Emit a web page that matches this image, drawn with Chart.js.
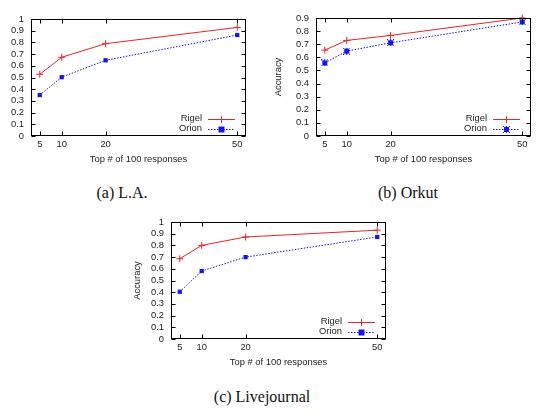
<!DOCTYPE html>
<html>
<head>
<meta charset="utf-8">
<script src="https://cdn.jsdelivr.net/npm/chart.js@4/dist/chart.umd.min.js"></script>
<style>
  html, body { margin: 0; padding: 0; background: #ffffff; }
  body { width: 553px; height: 414px; position: relative; overflow: hidden; }
  canvas { position: absolute; }
  .cap { position: absolute; font-family: "Liberation Serif", serif; font-size: 16px; color: #111; transform: translate(-50%, -50%); white-space: nowrap; }
</style>
</head>
<body>
<canvas id="cA"></canvas>
<canvas id="cB"></canvas>
<canvas id="cC"></canvas>
<div class="cap" style="left:122px; top:193px;">(a) L.A.</div>
<div class="cap" style="left:408px; top:193px;">(b) Orkut</div>
<div class="cap" style="left:262px; top:397px;">(c) Livejournal</div>
<script>
// ---- data ----
const categories = [5, 10, 20, 50];
const xTickLabels = ['5', '10', '20', '50'];
const yTickValues = [0, 0.1, 0.2, 0.3, 0.4, 0.5, 0.6, 0.7, 0.8, 0.9, 1];
const yTickLabels = ['0', '0.1', '0.2', '0.3', '0.4', '0.5', '0.6', '0.7', '0.8', '0.9', '1'];
const seriesNames = ['Rigel', 'Orion'];
const laRigel = [0.527, 0.673, 0.789, 0.928];
const laOrion = [0.350, 0.503, 0.647, 0.863];
const orkutRigel = [0.655, 0.729, 0.767, 0.900];
const orkutOrion = [0.557, 0.647, 0.711, 0.870];
const ljRigel = [0.686, 0.800, 0.872, 0.930];
const ljOrion = [0.404, 0.581, 0.700, 0.872];
const xTitle = 'Top # of 100 responses';
const yTitle = 'Accuracy';

// ---- style ----
const FONT = 'Liberation Sans, Arial, sans-serif';
const FS = 9.4;
const LH = FS * 1.2;
const RED = '#e3262b';
const BLUE = '#1414f0';

function starBox() {
  const c = document.createElement('canvas');
  c.width = 7; c.height = 7;
  const g = c.getContext('2d');
  g.fillStyle = BLUE;
  g.fillRect(1, 1, 5, 5);
  g.strokeStyle = BLUE; g.lineWidth = 1;
  g.beginPath();
  g.moveTo(0, 0); g.lineTo(7, 7);
  g.moveTo(7, 0); g.lineTo(0, 7);
  g.moveTo(3.5, 0); g.lineTo(3.5, 7);
  g.stroke();
  return c;
}

const framePlugin = {
  id: 'frame',
  afterDatasetsDraw(chart) {
    const ctx = chart.ctx, a = chart.chartArea;
    const xs = chart.scales.x, ys = chart.scales.y;
    ctx.save();
    ctx.strokeStyle = '#000'; ctx.lineWidth = 1;
    const L = Math.round(a.left) + 0.5, R = Math.round(a.right) - 0.5;
    const T = Math.round(a.top) + 0.5, B = Math.round(a.bottom) - 0.5;
    ctx.beginPath();
    ys.ticks.forEach(t => {
      const y = Math.round(ys.getPixelForValue(t.value)) + 0.5;
      ctx.moveTo(L, y); ctx.lineTo(L + 4, y);
      ctx.moveTo(R, y); ctx.lineTo(R - 4, y);
    });
    xs.ticks.forEach(t => {
      const x = Math.round(xs.getPixelForValue(t.value)) + 0.5;
      ctx.moveTo(x, B); ctx.lineTo(x, B - 4);
      ctx.moveTo(x, T); ctx.lineTo(x, T + 4);
    });
    ctx.stroke();
    ctx.strokeRect(L, T, R - L, B - T);
    // legend
    ctx.font = FS + 'px ' + FONT;
    ctx.textAlign = 'right'; ctx.textBaseline = 'middle';
    ctx.fillStyle = '#222';
    chart.data.datasets.forEach((ds, i) => {
      const y = a.bottom - 17.5 + i * 10;
      ctx.fillText(ds.label, a.right - 44, y);
      ctx.save();
      ctx.strokeStyle = ds.borderColor; ctx.lineWidth = 1;
      ctx.setLineDash(ds.borderDash || []);
      ctx.beginPath();
      ctx.moveTo(a.right - 38, Math.round(y) + 0.5); ctx.lineTo(a.right - 11, Math.round(y) + 0.5);
      ctx.stroke();
      ctx.setLineDash([]);
      const mx = a.right - 24.5, my = Math.round(y) + 0.5;
      if (ds.pointStyle === 'cross') {
        ctx.beginPath();
        ctx.moveTo(mx - 3.5, my); ctx.lineTo(mx + 3.5, my);
        ctx.moveTo(mx, my - 3.5); ctx.lineTo(mx, my + 3.5);
        ctx.stroke();
      } else if (ds.pointStyle === 'rect') {
        ctx.fillStyle = ds.pointBackgroundColor;
        ctx.fillRect(mx - 3, my - 3, 6, 6);
      } else {
        ctx.drawImage(ds.pointStyle, mx - 3.5, my - 3.5);
      }
      ctx.restore();
    });
    ctx.restore();
  }
};

function makeChart(id, g, yMax, rigel, orion, orionStyle) {
  const cv = document.getElementById(id);
  cv.style.left = g.left + 'px'; cv.style.top = g.top + 'px';
  cv.width = g.w; cv.height = g.h;
  cv.style.width = g.w + 'px'; cv.style.height = g.h + 'px';
  const padLeft = g.yTitleX != null ? (g.yTitleX - g.left - LH / 2) : 0;
  const padTop = g.plotT - g.top;
  const padRight = g.left + g.w - g.plotR;
  const padBottom = g.top + g.h - (g.xTitleY + LH / 2);
  const yWidth = g.plotL - g.left - padLeft;
  const xHeight = g.xTitleY + LH / 2 - g.plotB;
  const font = { family: FONT, size: FS };
  return new Chart(cv, {
    type: 'scatter',
    data: {
      datasets: [
        {
          label: seriesNames[0],
          data: categories.map((x, i) => ({ x: x, y: rigel[i] })),
          showLine: true, borderColor: RED, borderWidth: 1,
          pointStyle: 'cross', pointRadius: 3.5, pointBorderColor: RED, pointBorderWidth: 1,
          pointBackgroundColor: RED, clip: false
        },
        {
          label: seriesNames[1],
          data: categories.map((x, i) => ({ x: x, y: orion[i] })),
          showLine: true, borderColor: BLUE, borderWidth: 1, borderDash: [1.5, 1.5],
          pointStyle: orionStyle, pointRadius: 3, pointBorderColor: BLUE, pointBorderWidth: 0,
          pointBackgroundColor: BLUE, clip: false
        }
      ]
    },
    options: {
      responsive: false, animation: false, devicePixelRatio: 1,
      layout: { padding: { left: padLeft, top: padTop, right: padRight, bottom: padBottom } },
      plugins: { legend: { display: false }, tooltip: { enabled: false } },
      scales: {
        x: {
          type: 'linear', min: 3, max: 52,
          afterBuildTicks: s => { s.ticks = categories.map(v => ({ value: v })); },
          afterFit: s => { s.height = xHeight; },
          grid: { display: false, drawTicks: false },
          border: { display: false },
          ticks: { font: font, color: '#222', padding: 3, maxRotation: 0, autoSkip: false,
                   callback: (v) => xTickLabels[categories.indexOf(v)] },
          title: { display: true, text: xTitle, font: font, color: '#222', padding: 0 }
        },
        y: {
          type: 'linear', min: 0, max: yMax,
          afterBuildTicks: s => { s.ticks = yTickValues.filter(v => v <= yMax + 1e-9).map(v => ({ value: v })); },
          afterFit: s => { s.width = yWidth; },
          grid: { display: false, drawTicks: false },
          border: { display: false },
          ticks: { font: font, color: '#222', padding: 7, autoSkip: false,
                   callback: (v) => yTickLabels[yTickValues.findIndex(t => Math.abs(t - v) < 1e-9)] },
          title: { display: g.yTitleX != null, text: yTitle, font: font, color: '#222', padding: 0 }
        }
      }
    },
    plugins: [framePlugin]
  });
}

makeChart('cA', { left: 0, top: 0, w: 262, h: 175, plotL: 31, plotR: 246, plotT: 19, plotB: 136, xTitleY: 159, yTitleX: null }, 1, laRigel, laOrion, 'rect');
makeChart('cB', { left: 266, top: 0, w: 287, h: 175, plotL: 316, plotR: 531, plotT: 18, plotB: 136, xTitleY: 159, yTitleX: 278 }, 0.9, orkutRigel, orkutOrion, starBox());
makeChart('cC', { left: 125, top: 205, w: 275, h: 170, plotL: 171, plotR: 386, plotT: 222, plotB: 339, xTitleY: 362, yTitleX: 137 }, 1, ljRigel, ljOrion, 'rect');
</script>
</body>
</html>
